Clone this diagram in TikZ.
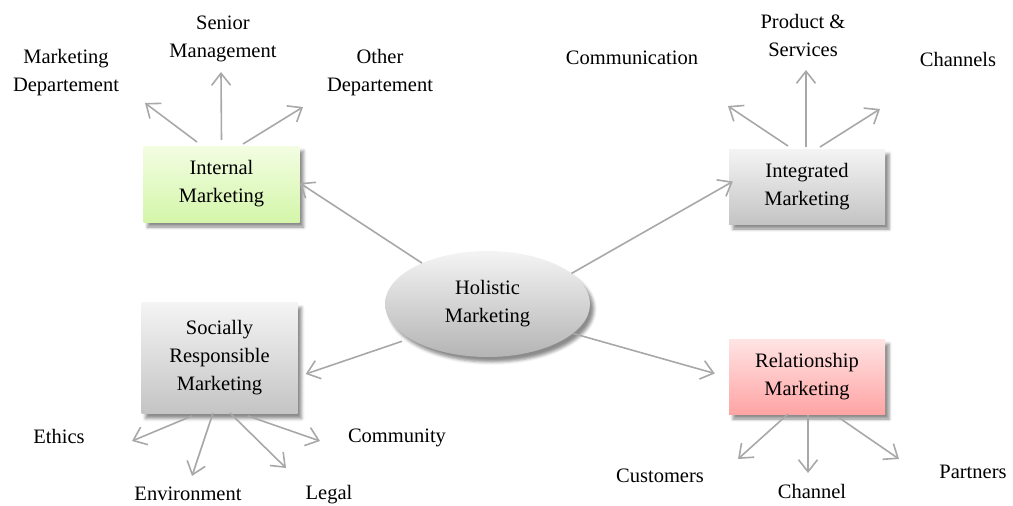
\documentclass[tikz,border=0pt]{standalone}
\usepackage{fontspec}
\setmainfont{Liberation Serif}
\usetikzlibrary{arrows.meta,calc,shapes.geometric,shadows.blur}

\definecolor{greentop}{RGB}{243,253,226}
\definecolor{greenbot}{RGB}{212,246,170}
\definecolor{graytop}{RGB}{244,244,244}
\definecolor{graybot}{RGB}{196,196,196}
\definecolor{pinktop}{RGB}{255,228,228}
\definecolor{pinkbot}{RGB}{255,164,164}
\definecolor{linkgray}{RGB}{168,168,168}

\tikzset{
  txt/.style={font=\fontsize{20.5}{28}\selectfont, align=center, inner sep=0pt},
  shadowed/.style={blur shadow={shadow xshift=4pt, shadow yshift=-5pt,
      shadow blur radius=3pt, shadow opacity=45}},
  boxnode/.style={txt, rectangle, minimum width=156pt, shadowed},
  greenbox/.style={boxnode, top color=greentop, bottom color=greenbot},
  graybox/.style={boxnode, top color=graytop, bottom color=graybot},
  pinkbox/.style={boxnode, top color=pinktop, bottom color=pinkbot},
  hub/.style={txt, ellipse, minimum width=205pt, minimum height=106pt,
      top color=graytop, bottom color=graybot!92!black, shadowed},
  arr/.style={draw=linkgray, line width=1.6pt,
      -{Straight Barb[length=12pt,width=19pt,line width=1.6pt]}}
}

\begin{document}
\begin{tikzpicture}[x=1pt,y=-1pt]
\useasboundingbox (0,0) rectangle (1013,506);

% central concept and the four branches
\node[hub] (hol) at (487.5,304) {Holistic\\Marketing};
\node[greenbox, minimum height=76pt] (int) at (221.5,184) {Internal\\Marketing};
\node[graybox, minimum height=75pt] (intg) at (807,186.5) {Integrated\\Marketing};
\node[graybox, minimum height=111pt] (soc) at (219.5,358) {Socially\\Responsible\\Marketing};
\node[pinkbox, minimum height=75pt] (rel) at (807,376.5) {Relationship\\Marketing};

% outer labels
\node[txt] (mkt) at (66,73) {Marketing\\Departement};
\node[txt] (sen) at (223,39) {Senior\\Management};
\node[txt] (oth) at (380,73) {Other\\Departement};
\node[txt] (com) at (632,58) {Communication};
\node[txt] (prd) at (803,35) {Product \&\\Services};
\node[txt] (chs) at (958,59) {Channels};
\node[txt] (eth) at (59,436) {Ethics};
\node[txt] (cmy) at (397,438) {Community};
\node[txt] (env) at (188,494) {Environment};
\node[txt] (leg) at (329,495) {Legal};
\node[txt] (cus) at (660,476) {Customers};
\node[txt] (chl) at (812,491) {Channel};
\node[txt] (par) at (973,472) {Partners};

% arrow tips of the outer spokes
\coordinate (tmkt) at (145,103);
\coordinate (tsen) at (221,72);
\coordinate (toth) at (303,107);
\coordinate (tcom) at (728,106);
\coordinate (tprd) at (806,70);
\coordinate (tchs) at (880,109);
\coordinate (teth) at (132,441);
\coordinate (tenv) at (192,476);
\coordinate (tleg) at (286,468);
\coordinate (tcmy) at (320,441);
\coordinate (tcus) at (738,459);
\coordinate (tchl) at (808,473);
\coordinate (tpar) at (899,459);

% hub to branches
\draw[arr] (hol.148) -- ($(int.east)+(0,-1)$);
\draw[arr] (hol.20) -- ($(intg.west)+(4,-5)$);
\draw[arr, shorten <=8pt] (hol.204) -- ($(soc.east)+(8,16)$);
\draw[arr] (hol.341) -- ($(rel.west)+(-14,-3)$);

% internal marketing spokes
\draw[arr] ($(int)+(-24.5,-42)$) -- (tmkt);
\draw[arr] ($(int)+(0,-44)$) -- (tsen);
\draw[arr] ($(int)+(21.5,-40)$) -- (toth);

% integrated marketing spokes
\draw[arr] ($(intg)+(-19,-40.5)$) -- (tcom);
\draw[arr] ($(intg)+(-1,-39.5)$) -- (tprd);
\draw[arr] ($(intg)+(13,-39.5)$) -- (tchs);

% socially responsible marketing spokes
\draw[arr] ($(soc)+(-27.5,58)$) -- (teth);
\draw[arr] ($(soc)+(-6.5,55)$) -- (tenv);
\draw[arr] ($(soc)+(10.5,55)$) -- (tleg);
\draw[arr] ($(soc)+(28.5,58)$) -- (tcmy);

% relationship marketing spokes
\draw[arr] ($(rel)+(-19,37.5)$) -- (tcus);
\draw[arr] ($(rel)+(1,38.5)$) -- (tchl);
\draw[arr] ($(rel)+(31,40.5)$) -- (tpar);
\end{tikzpicture}
\end{document}
